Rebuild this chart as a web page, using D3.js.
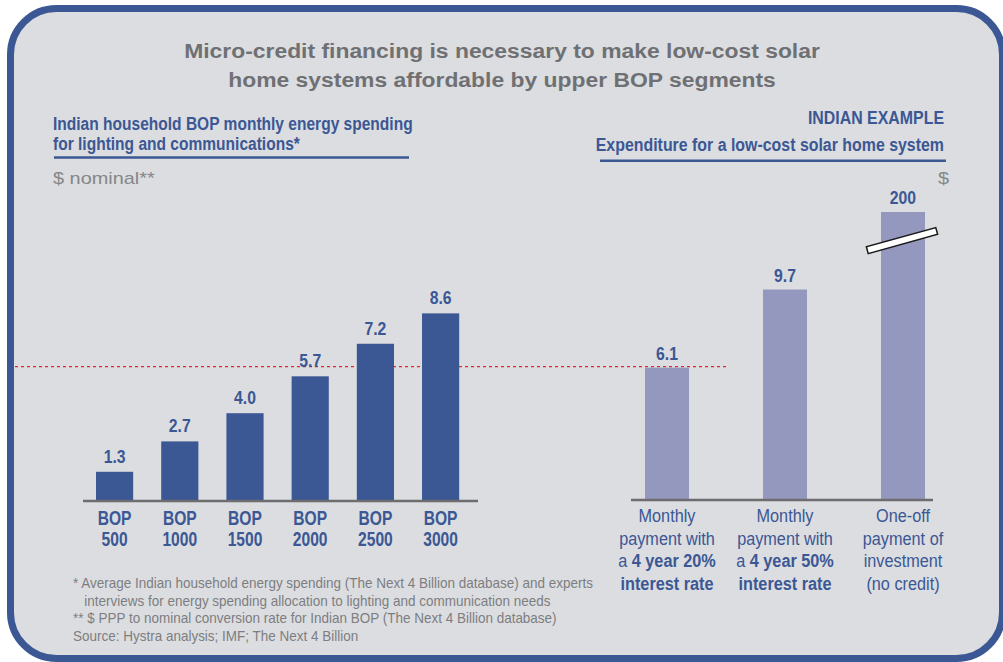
<!DOCTYPE html>
<html>
<head>
<meta charset="utf-8">
<script src="https://cdn.jsdelivr.net/npm/d3@7"></script>
<style>
  html, body { margin: 0; padding: 0; background: #fff; }
  svg { display: block; }
</style>
</head>
<body>
<div id="chart"></div>
<script>
// left panel: monthly energy spending per BOP segment
const leftSegments = ["500", "1000", "1500", "2000", "2500", "3000"];
const leftValues = [1.3, 2.7, 4.0, 5.7, 7.2, 8.6];

// right panel: expenditure for a solar home system
const rightKeys = ["m20", "m50", "oneoff"];
const rightValues = [6.1, 9.7, 200];
const rightLabels = [
  [[["Monthly", false]], [["payment with", false]], [["a ", false], ["4 year 20%", true]], [["interest rate", true]]],
  [[["Monthly", false]], [["payment with", false]], [["a ", false], ["4 year 50%", true]], [["interest rate", true]]],
  [[["One-off", false]], [["payment of", false]], [["investment", false]], [["(no credit)", false]]]
];

const titleLines = [
  "Micro-credit financing is necessary to make low-cost solar",
  "home systems affordable by upper BOP segments"
];
const leftHeading = ["Indian household BOP monthly energy spending", "for lighting and communications*"];
const rightHeading = ["INDIAN EXAMPLE", "Expenditure for a low-cost solar home system"];
const footnotes = [
  "* Average Indian household energy spending (The Next 4 Billion database) and experts",
  "   interviews for energy spending allocation to lighting and communication needs",
  "** $ PPP to nominal conversion rate for Indian BOP (The Next 4 Billion database)",
  "Source: Hystra analysis; IMF; The Next 4 Billion"
];

const W = 1003, H = 662;
const BLUE = "#3b5794", LILAC = "#9598be", GREY = "#6f7073", NOTE = "#7d7e80";
const FONT = "'Liberation Sans', Arial, sans-serif";

const svg = d3.select("#chart").append("svg")
  .attr("width", W).attr("height", H)
  .attr("font-family", FONT);

// text squeezed/stretched horizontally around its anchor point
function stretched(parent, x, y, sx) {
  return parent.append("g")
    .attr("transform", `translate(${x},${y}) scale(${sx},1)`)
    .append("text");
}

// frame
svg.append("rect")
  .attr("x", 10.5).attr("y", 8.5)
  .attr("width", 992).attr("height", 650)
  .attr("rx", 46).attr("ry", 46)
  .attr("fill", "#dcdde0")
  .attr("stroke", BLUE).attr("stroke-width", 7);

// shared value scale (broken above 12)
const breakValue = 12;
const y = d3.scaleLinear()
  .domain([0, breakValue, 200])
  .range([500, 500 - breakValue * 21.7, 212]);

const fmt = v => v >= 100 ? d3.format("d")(v) : d3.format(".1f")(v);

// title
titleLines.forEach((t, i) => {
  stretched(svg, 502, 58 + i * 28.5, 1.09)
    .attr("text-anchor", "middle")
    .attr("font-weight", "bold").attr("font-size", 21).attr("fill", GREY)
    .text(t);
});

// left heading
leftHeading.forEach((t, i) => {
  stretched(svg, 53, 129.5 + i * 20.5, 0.84)
    .attr("font-weight", "bold").attr("font-size", 18.5).attr("fill", BLUE)
    .text(t);
});
svg.append("line")
  .attr("x1", 54).attr("x2", 409).attr("y1", 157.5).attr("y2", 157.5)
  .attr("stroke", BLUE).attr("stroke-width", 2.5);
stretched(svg, 53, 183.5, 1.17)
  .attr("font-size", 17).attr("fill", "#858688")
  .text("$ nominal**");

// right heading
rightHeading.forEach((t, i) => {
  stretched(svg, 944, 124 + i * 26.5, 0.86)
    .attr("text-anchor", "end")
    .attr("font-weight", "bold").attr("font-size", 18.5).attr("fill", BLUE)
    .text(t);
});
svg.append("line")
  .attr("x1", 600).attr("x2", 946).attr("y1", 160.8).attr("y2", 160.8)
  .attr("stroke", BLUE).attr("stroke-width", 2.5);
stretched(svg, 949, 184, 1.17)
  .attr("text-anchor", "end")
  .attr("font-size", 17).attr("fill", "#858688")
  .text("$");

// threshold line at the 20% monthly payment
svg.append("line")
  .attr("x1", 15).attr("x2", 726)
  .attr("y1", y(rightValues[0]) - 1).attr("y2", y(rightValues[0]) - 1)
  .attr("stroke", "#e8262e").attr("stroke-width", 1.4)
  .attr("stroke-dasharray", "3,3");

// ---- left chart
const xl = d3.scaleBand()
  .domain(leftSegments)
  .range([63.4, 491.8])
  .paddingInner(0.43).paddingOuter(0.5);

const gl = svg.append("g");
gl.selectAll("rect")
  .data(leftValues).join("rect")
  .attr("x", (d, i) => xl(leftSegments[i]))
  .attr("width", xl.bandwidth())
  .attr("y", d => y(d))
  .attr("height", d => y(0) - y(d))
  .attr("fill", BLUE);
leftValues.forEach((v, i) => {
  stretched(gl, xl(leftSegments[i]) + xl.bandwidth() / 2, y(v) - 9, 0.9)
    .attr("text-anchor", "middle")
    .attr("font-weight", "bold").attr("font-size", 17.5).attr("fill", BLUE)
    .text(fmt(v));
});
gl.append("line")
  .attr("x1", 83).attr("x2", 478).attr("y1", y(0) + 1).attr("y2", y(0) + 1)
  .attr("stroke", "#6d6d6f").attr("stroke-width", 2.5);
leftSegments.forEach(s => {
  const t = stretched(gl, xl(s) + xl.bandwidth() / 2, 0, 0.8)
    .attr("text-anchor", "middle")
    .attr("font-weight", "bold").attr("font-size", 19.5).attr("fill", BLUE);
  t.append("tspan").attr("x", 0).attr("y", 525).text("BOP");
  t.append("tspan").attr("x", 0).attr("y", 546).text(s);
});

// ---- right chart
const xr = d3.scaleBand()
  .domain(rightKeys)
  .range([586, 984])
  .paddingInner(0.627).paddingOuter(0.5);

const gr = svg.append("g");
gr.selectAll("rect")
  .data(rightValues).join("rect")
  .attr("x", (d, i) => xr(rightKeys[i]))
  .attr("width", xr.bandwidth())
  .attr("y", d => y(d))
  .attr("height", d => y(0) - y(d))
  .attr("fill", LILAC);
rightValues.forEach((v, i) => {
  stretched(gr, xr(rightKeys[i]) + xr.bandwidth() / 2, y(v) - 8, 0.9)
    .attr("text-anchor", "middle")
    .attr("font-weight", "bold").attr("font-size", 17.5).attr("fill", BLUE)
    .text(fmt(v));
});

// axis break on the bars that exceed the break value
gr.selectAll(".brk")
  .data(rightValues.map((v, i) => [v, i]).filter(d => d[0] > breakValue)).join("rect")
  .attr("class", "brk")
  .attr("x", -36).attr("y", -3.5)
  .attr("width", 72).attr("height", 7)
  .attr("transform", d => `translate(${xr(rightKeys[d[1]]) + xr.bandwidth() / 2 - 1},${y(breakValue) + 1}) rotate(-15.5)`)
  .attr("fill", "#fff").attr("stroke", "#1a1a1a").attr("stroke-width", 1.5);

gr.append("line")
  .attr("x1", 631).attr("x2", 933).attr("y1", y(0)).attr("y2", y(0))
  .attr("stroke", "#6d6d6f").attr("stroke-width", 2.5);

rightLabels.forEach((lines, i) => {
  const t = stretched(gr, xr(rightKeys[i]) + xr.bandwidth() / 2, 0, 0.93)
    .attr("text-anchor", "middle")
    .attr("font-size", 17.5).attr("fill", BLUE);
  lines.forEach((segs, j) => {
    segs.forEach((s, k) => {
      const ts = t.append("tspan")
        .attr("font-weight", s[1] ? "bold" : "normal")
        .text(s[0]);
      if (k === 0) ts.attr("x", 0).attr("y", 522.5 + j * 22.5);
    });
  });
});

// footnotes
footnotes.forEach((f, i) => {
  stretched(svg, 73, 588 + i * 17.5, 0.9)
    .attr("xml:space", "preserve")
    .style("white-space", "pre")
    .attr("font-size", 15).attr("fill", NOTE)
    .text(f);
});
</script>
</body>
</html>
